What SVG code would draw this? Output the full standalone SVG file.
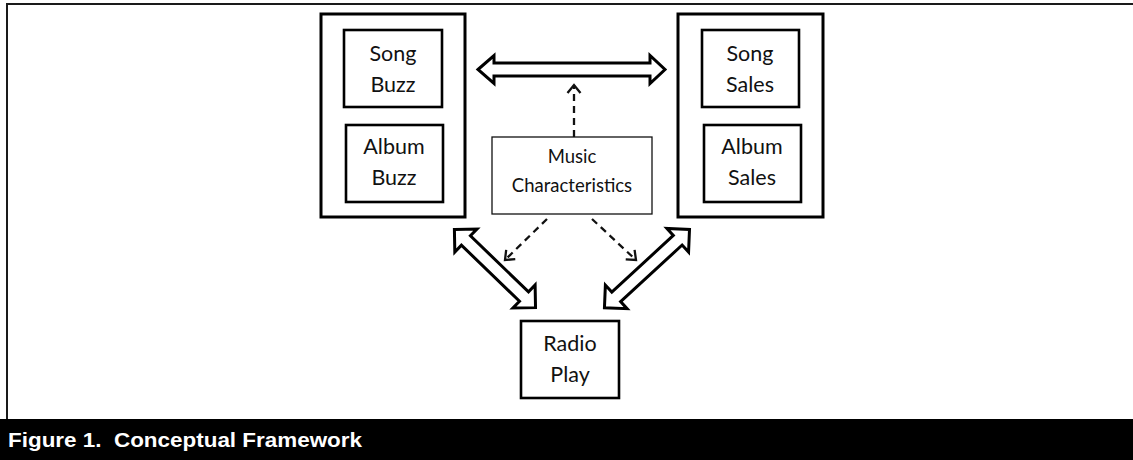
<svg xmlns="http://www.w3.org/2000/svg" width="1133" height="460" viewBox="0 0 1133 460">
<style>
.big{fill:#fff;stroke:#000;stroke-width:3}
.inner{fill:#fff;stroke:#000;stroke-width:2.6}
.thin{fill:#fff;stroke:#111;stroke-width:1.3}
.t{font-family:Lato,"Liberation Sans",sans-serif;font-size:21.5px;fill:#111;text-anchor:middle}
.ts{font-family:Lato,"Liberation Sans",sans-serif;font-size:18.5px;fill:#111;text-anchor:middle}
.dbl{fill:#fff;stroke:#000;stroke-width:3;stroke-linejoin:miter}
.dash{fill:none;stroke:#111;stroke-width:2.3;stroke-dasharray:7,5}
.cap{font-family:"Liberation Sans",Arial,sans-serif;font-weight:bold;font-size:21px;fill:#fff;white-space:pre}
</style>
<defs>
<marker id="chev" markerUnits="userSpaceOnUse" markerWidth="20" markerHeight="20" viewBox="-10 -10 20 20" refX="0" refY="0" orient="auto">
<path d="M-8,-6.5 L0,0 L-8,6.5" fill="none" stroke="#111" stroke-width="2.3"/>
</marker>
</defs>
<rect x="0" y="0" width="1133" height="460" fill="#fff"/>
<path d="M7,420 V4 H1133" fill="none" stroke="#1a1a1a" stroke-width="2"/>
<rect x="0" y="419" width="1133" height="41" fill="#000"/>
<text class="cap" x="8" y="447" textLength="354" lengthAdjust="spacingAndGlyphs" xml:space="preserve">Figure 1.  Conceptual Framework</text>

<g id="buzz-group">
<rect class="big" x="321" y="14" width="144" height="203"/>
<g id="song-buzz">
<rect class="inner" x="344" y="30" width="98" height="77"/>
<text class="t" x="393" y="61">Song</text>
<text class="t" x="393" y="92">Buzz</text>
</g>
<g id="album-buzz">
<rect class="inner" x="346" y="125" width="97" height="77"/>
<text class="t" x="394" y="154">Album</text>
<text class="t" x="394" y="185">Buzz</text>
</g>
</g>

<g id="sales-group">
<rect class="big" x="678" y="14" width="145" height="203"/>
<g id="song-sales">
<rect class="inner" x="702" y="30" width="97" height="77"/>
<text class="t" x="750" y="61">Song</text>
<text class="t" x="750" y="92">Sales</text>
</g>
<g id="album-sales">
<rect class="inner" x="704" y="125" width="97" height="77"/>
<text class="t" x="752" y="154">Album</text>
<text class="t" x="752" y="185">Sales</text>
</g>
</g>

<g id="music-characteristics">
<rect class="thin" x="492" y="137" width="160" height="77"/>
<text class="ts" x="572" y="163">Music</text>
<text class="ts" x="572" y="192">Characteristics</text>
</g>

<g id="radio-play">
<rect class="inner" x="521" y="321" width="98" height="77"/>
<text class="t" x="570" y="351">Radio</text>
<text class="t" x="570" y="382">Play</text>
</g>

<g id="connectors">
<polygon class="dbl" points="478,69.5 494,55.5 494,63 650,63 650,55.5 665,69.5 650,83.5 650,76 494,76 494,83.5"/>
<polygon class="dbl" transform="translate(454.4,229.4) rotate(43.96)" points="0,0 16,-16 16,-6.5 96.7,-6.5 96.7,-16 112.7,0 96.7,16 96.7,6.5 16,6.5 16,16"/>
<polygon class="dbl" transform="translate(689.5,229.4) rotate(137.37)" points="0,0 16,-16 16,-6.5 99.6,-6.5 99.6,-16 115.6,0 99.6,16 99.6,6.5 16,6.5 16,16"/>
<line class="dash" x1="574" y1="137" x2="574" y2="85" marker-end="url(#chev)"/>
<line class="dash" x1="547" y1="219" x2="505" y2="260" marker-end="url(#chev)"/>
<line class="dash" x1="592" y1="219" x2="636" y2="260" marker-end="url(#chev)"/>
</g>
</svg>
